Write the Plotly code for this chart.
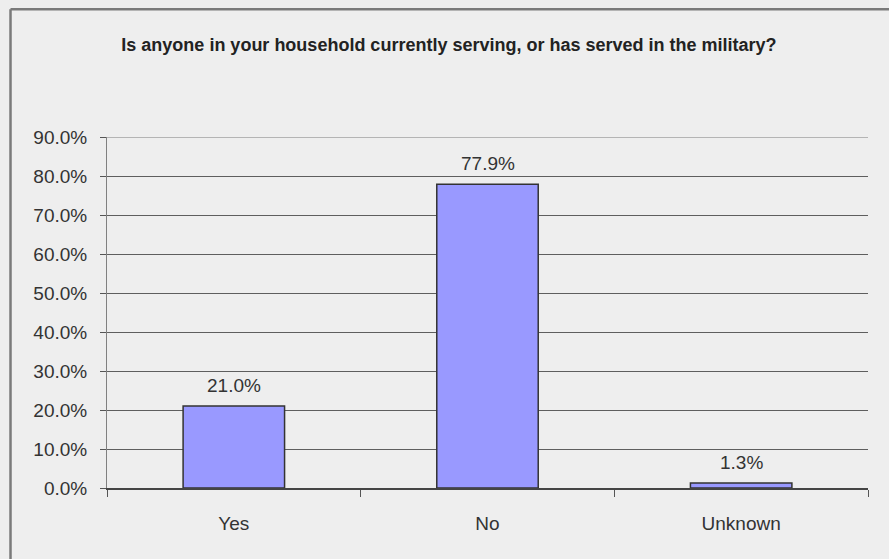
import plotly.graph_objects as go

categories = ["Yes", "No", "Unknown"]
shares = [21.0, 77.9, 1.3]
y_ticks = [0, 10, 20, 30, 40, 50, 60, 70, 80, 90]
y_tick_labels = [f"{v:.1f}%" for v in y_ticks]

title_text = "Is anyone in your household currently serving, or has served in the military?"

font_family = "Liberation Sans, Arial, sans-serif"
bg = "#eeeeee"
label_size = 19

fig = go.Figure(
    go.Bar(
        x=categories,
        y=shares,
        width=0.4,
        marker=dict(color="#9999ff", line=dict(color="#333333", width=1.5)),
        hoverinfo="skip",
    )
)

# value labels above each bar
for cat, val in zip(categories, shares):
    fig.add_annotation(
        x=cat, y=val, text=f"{val:.1f}%", showarrow=False,
        yanchor="bottom", yshift=8,
        font=dict(family=font_family, size=label_size, color="#333333"),
    )

# topmost gridline, drawn explicitly so it sits on the plot edge
fig.add_shape(
    type="line", xref="paper", yref="y",
    x0=0, x1=1, y0=y_ticks[-1], y1=y_ticks[-1],
    line=dict(color="#7a7a7a", width=1),
)

# outer frame of the chart (left and top edges)
frame = dict(color="#7a7a7a", width=2.5)
fig.add_shape(type="line", xref="paper", yref="paper",
              x0=-0.1268, x1=-0.1268, y0=-0.3, y1=1.364, line=frame)
fig.add_shape(type="line", xref="paper", yref="paper",
              x0=-0.1268, x1=1.1, y0=1.364, y1=1.364, line=frame)

fig.update_layout(
    width=889, height=559,
    margin=dict(l=107, r=21, t=137, b=71),
    paper_bgcolor=bg, plot_bgcolor=bg,
    showlegend=False,
    title=dict(
        text=f"<b>{title_text}</b>",
        x=0.505, xanchor="center", y=0.92, yanchor="middle",
        font=dict(family=font_family, size=18, color="#222222"),
    ),
    font=dict(family=font_family, size=label_size, color="#333333"),
)

fig.update_xaxes(
    type="category", tickson="boundaries", ticks="outside", ticklen=7,
    tickcolor="#555555", showline=True, linecolor="#444444", linewidth=1.5,
    showgrid=False, ticklabelstandoff=17,
    tickfont=dict(size=label_size, color="#333333"),
)
fig.update_yaxes(
    range=[0, 90], tickvals=y_ticks, ticktext=y_tick_labels,
    ticks="outside", ticklen=6, tickcolor="#555555",
    showline=True, linecolor="#808080", linewidth=1,
    showgrid=True, gridcolor="#5e5e5e", gridwidth=1,
    zeroline=False, ticklabelstandoff=9,
    tickfont=dict(size=label_size, color="#333333"),
)

fig.write_html("out.html")
